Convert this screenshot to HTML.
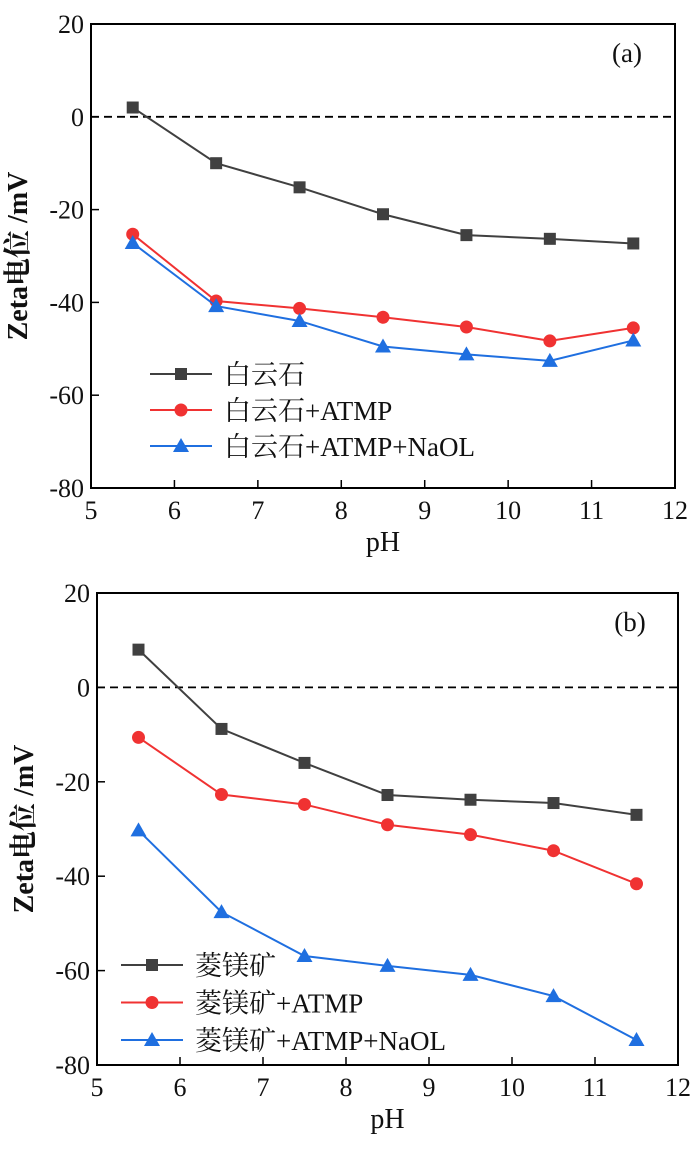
<!DOCTYPE html>
<html><head><meta charset="utf-8"><style>
body{margin:0;background:#fff;}
svg text{font-family:"Liberation Serif","Noto Serif CJK SC",serif;fill:#111;}
</style></head><body>
<svg id="chart" width="700" height="1149" xmlns="http://www.w3.org/2000/svg"></svg>
<script>
const xTicks=[5,6,7,8,9,10,11,12];
const yTicks=[20,0,-20,-40,-60,-80];
const pH=[5.5,6.5,7.5,8.5,9.5,10.5,11.5];
const aNames=["白云石","白云石+ATMP","白云石+ATMP+NaOL"];
const aBlack=[2,-10,-15.2,-21,-25.5,-26.3,-27.3];
const aRed=[-25.3,-39.7,-41.3,-43.2,-45.3,-48.3,-45.5];
const aBlue=[-27.2,-40.8,-44,-49.5,-51.2,-52.6,-48.2];
const bNames=["菱镁矿","菱镁矿+ATMP","菱镁矿+ATMP+NaOL"];
const bBlack=[8,-8.8,-16,-22.8,-23.8,-24.5,-27];
const bRed=[-10.6,-22.7,-24.8,-29.1,-31.2,-34.6,-41.6];
const bBlue=[-30.3,-47.6,-56.9,-59,-60.9,-65.4,-74.7];

const svg=document.getElementById('chart');
const NS='http://www.w3.org/2000/svg';
function mk(t,a,p){const e=document.createElementNS(NS,t);for(const k in a)e.setAttribute(k,a[k]);(p||svg).appendChild(e);return e;}
const colors=['#404040','#f03232','#1f6fe0'];
const markers=['square','circle','triangle'];
function marker(g,kind,x,y,c){
  let m;
  if(kind==='square')m=mk('rect',{x:x-6,y:y-6,width:12,height:12,fill:c},g);
  else if(kind==='circle')m=mk('circle',{cx:x,cy:y,r:6.5,fill:c},g);
  else m=mk('polygon',{points:`${x},${y-8} ${x+8},${y+6} ${x-8},${y+6}`,fill:c},g);
  
  
}
function panel(id,L,R,T,B,label,names,series,legX,legY,legGap){
  const g=mk('g',{});
  
  
  const sx=v=>L+(v-5)/7*(R-L), sy=v=>T+(20-v)/100*(B-T);
  const fr=mk('rect',{x:L,y:T,width:R-L,height:B-T,fill:'none',stroke:'#000','stroke-width':2},g);
  
  const z=mk('line',{x1:L,x2:R,y1:sy(0),y2:sy(0),stroke:'#000','stroke-width':1.8,'stroke-dasharray':'8,5'},g);
  
  xTicks.forEach(v=>{
    mk('line',{x1:sx(v),x2:sx(v),y1:B,y2:B-8,stroke:'#000','stroke-width':1.5},g);
    const t=mk('text',{x:sx(v),y:B+31,'text-anchor':'middle','font-size':26},g);t.textContent=v;
    
  });
  yTicks.forEach(v=>{
    mk('line',{x1:L,x2:L+8,y1:sy(v),y2:sy(v),stroke:'#000','stroke-width':1.5},g);
    const t=mk('text',{x:L-7,y:sy(v)+9,'text-anchor':'end','font-size':26},g);t.textContent=v;
    
  });
  const xt=mk('text',{x:(L+R)/2,y:B+63,'text-anchor':'middle','font-size':28},g);xt.textContent='pH';
  
  const cy=(T+B)/2;
  const yt=mk('text',{x:0,y:0,'text-anchor':'middle','font-size':28,'font-weight':'bold',transform:`translate(${L-64},${cy}) rotate(-90)`},g);yt.textContent='Zeta电位 /mV';
  
  const pl=mk('text',{x:R-48,y:T+38,'text-anchor':'middle','font-size':27},g);pl.textContent=label;
  
  series.forEach((s,i)=>{
    const pts=s.map((v,j)=>sx(pH[j])+','+sy(v)).join(' ');
    const l=mk('polyline',{points:pts,fill:'none',stroke:colors[i],'stroke-width':2},g);
    
    s.forEach((v,j)=>marker(g,markers[i],sx(pH[j]),sy(v),colors[i]));
    const y=legY+i*legGap;
    const ll=mk('line',{x1:legX,x2:legX+62,y1:y,y2:y,stroke:colors[i],'stroke-width':2},g);
    
    marker(g,markers[i],legX+31,y,colors[i]);
    const lt=mk('text',{x:legX+74,y:y+10,'font-size':27},g);lt.textContent=names[i];
    
  });
}
panel('a',91,675,24,488,'(a)',aNames,[aBlack,aRed,aBlue],150,374,36);
panel('b',97,678,593,1065,'(b)',bNames,[bBlack,bRed,bBlue],121,965,37.5);
</script>
</body></html>
